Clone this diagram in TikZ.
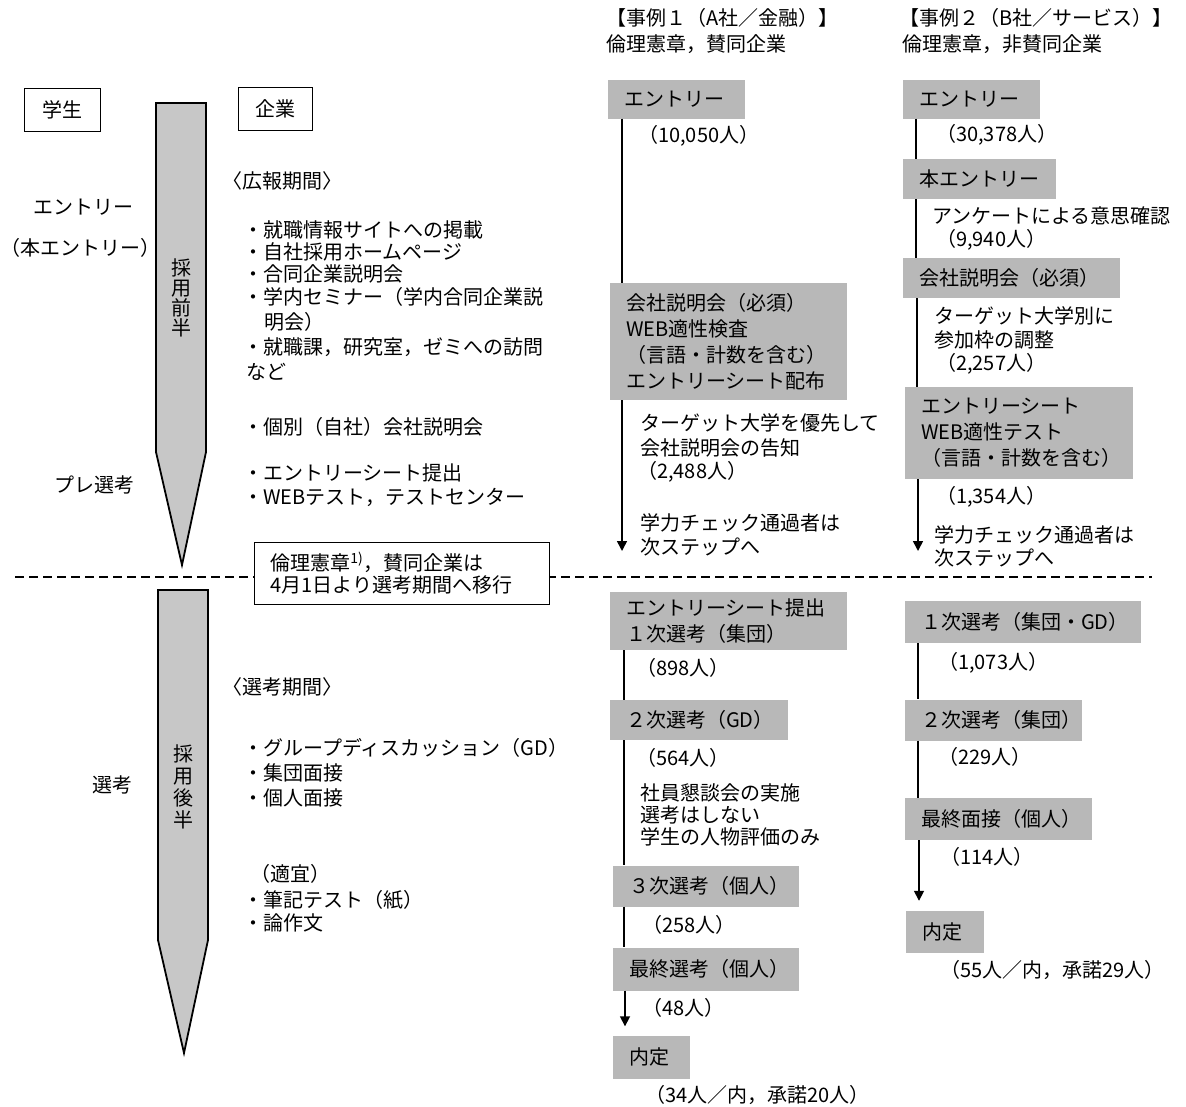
\documentclass[tikz,border=0pt]{standalone}
\usepackage{fontspec}
\setmainfont{Noto Sans CJK JP}
\usetikzlibrary{arrows.meta,calc}
\begin{document}
\begin{tikzpicture}[x=1pt,y=-1pt,
  font=\fontsize{20}{24}\selectfont,
  txt/.style={anchor=west,inner sep=0pt},
  gbox/.style={anchor=west,fill=black!28,inner xsep=16pt,inner ysep=0pt,align=left},
  twoline/.style={font=\fontsize{20}{26}\selectfont},
  wbox/.style={draw,line width=0.9pt,fill=white,inner sep=0pt,minimum height=43pt},
  bar/.style={draw,line width=1.8pt,fill=black!22,line join=miter},
  bartext/.style={inner sep=0pt,align=center},
  conn/.style={line width=1.6pt},
  arr/.style={conn,-{Triangle[width=10pt,length=10pt]}},
  sepline/.style={line width=2pt,dash pattern=on 9pt off 5pt}]
\useasboundingbox (0,0) rectangle (1186,1106);

% ---------- separator ----------
\coordinate (dl) at (15,577);
\coordinate (dr) at (1152,577);
\draw[sepline] (dl) -- (dr);

% ---------- left: header boxes ----------
\node[wbox,minimum width=76pt] (st) at (62,109.5) {学生};
\node[wbox,minimum width=74pt] (co) at (275,109) {企業};

% ---------- bars ----------
\filldraw[bar] (156,103) -- (206,103) -- (206,452) -- (182,565) -- (156,452) -- cycle;
\node[bartext,font=\fontsize{20}{20}\selectfont] (bar1) at (181,298) {採\\用\\前\\半};
\filldraw[bar] (158,590) -- (208,590) -- (208,940) -- (184,1053) -- (158,940) -- cycle;
\node[bartext,font=\fontsize{20}{22}\selectfont] (bar2) at (183,787) {採\\用\\後\\半};

% ---------- left labels ----------
\node[txt] (l1) at (33,207) {エントリー};
\node[inner sep=0pt,anchor=east] (l2) at (161,248) {（本エントリー）};
\node[txt] (l3) at (54,485) {プレ選考};
\node[txt] (l4) at (92,785) {選考};

% ---------- middle column ----------
\node[txt] (m0) at (222,181) {〈広報期間〉};
\node[txt] (m1) at (243,230) {・就職情報サイトへの掲載};
\node[txt] (m2) at (243,252) {・自社採用ホームページ};
\node[txt] (m3) at (243,274) {・合同企業説明会};
\node[txt] (m4) at (243,297) {・学内セミナー（学内合同企業説};
\node[txt] (m5) at (264,322) {明会）};
\node[txt] (m6) at (243,347) {・就職課，研究室，ゼミへの訪問};
\node[txt] (m7) at (246,372) {など};
\node[txt] (m8) at (243,427) {・個別（自社）会社説明会};
\node[txt] (m9) at (243,473) {・エントリーシート提出};
\node[txt] (m10) at (243,497) {・WEBテスト，テストセンター};

\node[txt] (n0) at (222,687) {〈選考期間〉};
\node[txt] (n1) at (243,748) {・グループディスカッション（GD）};
\node[txt] (n2) at (243,773) {・集団面接};
\node[txt] (n3) at (243,798) {・個人面接};
\node[txt] (n4) at (250,874) {（適宜）};
\node[txt] (n5) at (243,900) {・筆記テスト（紙）};
\node[txt] (n6) at (243,923) {・論作文};

% ---------- announcement box ----------
\node[draw,line width=0.9pt,fill=white,anchor=west,inner xsep=16pt,inner ysep=0pt,
      minimum height=62pt,text width=263pt,align=left,font=\fontsize{20}{22}\selectfont]
      (rk) at (254,573) {倫理憲章\textsuperscript{1)}，賛同企業は\\4月1日より選考期間へ移行};

% ---------- case 1 ----------
\node[txt] (h1a) at (606,18) {【事例１（A社／金融）】};
\node[txt] (h1b) at (606,44) {倫理憲章，賛同企業};

\node[gbox,text width=105pt,minimum height=39pt] (a1) at (608,99) {エントリー};
\node[txt] (a1n) at (638,136) {（10,050人）};
\node[gbox,twoline,text width=205pt,minimum height=117pt] (a2) at (610,341.5)
  {会社説明会（必須）\\WEB適性検査\\（言語・計数を含む）\\エントリーシート配布};
\node[txt] (a2t1) at (640,423) {ターゲット大学を優先して};
\node[txt] (a2t2) at (640,448) {会社説明会の告知};
\node[txt] (a2n) at (637,472) {（2,488人）};
\node[txt] (a2t3) at (640,523) {学力チェック通過者は};
\node[txt] (a2t4) at (640,547) {次ステップへ};
\coordinate (a2end) at (622,551);

\node[gbox,twoline,text width=205pt,minimum height=58pt] (b1) at (610,621)
  {エントリーシート提出\\１次選考（集団）};
\node[txt] (b1n) at (636,668) {（898人）};
\node[gbox,text width=146pt,minimum height=40pt] (b2) at (610,720) {２次選考（GD）};
\node[txt] (b2n) at (636,758) {（564人）};
\node[txt] (b2t1) at (640,793) {社員懇談会の実施};
\node[txt] (b2t2) at (640,815) {選考はしない};
\node[txt] (b2t3) at (640,837) {学生の人物評価のみ};
\node[gbox,text width=154pt,minimum height=41pt] (b3) at (613,886) {３次選考（個人）};
\node[txt] (b3n) at (642,925) {（258人）};
\node[gbox,text width=154pt,minimum height=43pt] (b4) at (613,969) {最終選考（個人）};
\node[txt] (b4n) at (642,1008) {（48人）};
\node[gbox,text width=45pt,minimum height=43pt] (b5) at (613,1057) {内定};
\node[txt] (b5n) at (645,1095) {（34人／内，承諾20人）};

\draw[conn] ([xshift=14pt]a1.south west) -- ([xshift=14pt]a1.south west |- a2.north);
\draw[arr] ([xshift=12pt]a2.south west) -- (a2end);
\draw[conn] ([xshift=14pt]b1.south west) -- ([xshift=14pt]b1.south west |- b2.north);
\draw[conn] ([xshift=14pt]b2.south west) -- ([xshift=14pt]b2.south west |- b3.north);
\draw[conn] ([xshift=11pt]b3.south west) -- ([xshift=11pt]b3.south west |- b4.north);
\draw[arr] ([xshift=12pt]b4.south west) -- ($([xshift=12pt]b4.south west |- b5.north)+(0,-9)$);

% ---------- case 2 ----------
\node[txt] (h2a) at (899,18) {【事例２（B社／サービス）】};
\node[txt] (h2b) at (902,44) {倫理憲章，非賛同企業};

\node[gbox,text width=105pt,minimum height=39pt] (c1) at (903,99) {エントリー};
\node[txt] (c1n) at (936,135) {（30,378人）};
\node[gbox,text width=121pt,minimum height=40pt] (c2) at (903,179) {本エントリー};
\node[txt] (c2t) at (932,216) {アンケートによる意思確認};
\node[txt] (c2n) at (936,240) {（9,940人）};
\node[gbox,text width=185pt,minimum height=40pt] (c3) at (903,278) {会社説明会（必須）};
\node[txt] (c3t1) at (934,316) {ターゲット大学別に};
\node[txt] (c3t2) at (934,340) {参加枠の調整};
\node[txt] (c3n) at (936,364) {（2,257人）};
\node[gbox,twoline,text width=196pt,minimum height=92pt] (c4) at (905,433)
  {エントリーシート\\WEB適性テスト\\（言語・計数を含む）};
\node[txt] (c4n) at (936,497) {（1,354人）};
\node[txt] (c4t1) at (934,535) {学力チェック通過者は};
\node[txt] (c4t2) at (934,558) {次ステップへ};
\coordinate (c4end) at (918,551);

\node[gbox,text width=204pt,minimum height=42pt] (d1) at (905,622) {１次選考（集団・GD）};
\node[txt] (d1n) at (938,663) {（1,073人）};
\node[gbox,text width=145pt,minimum height=41pt] (d2) at (905,720) {２次選考（集団）};
\node[txt] (d2n) at (938,757) {（229人）};
\node[gbox,text width=155pt,minimum height=42pt] (d3) at (905,819) {最終面接（個人）};
\node[txt] (d3n) at (940,857) {（114人）};
\node[gbox,text width=46pt,minimum height=42pt] (d4) at (906,932) {内定};
\node[txt] (d4n) at (940,970) {（55人／内，承諾29人）};

\draw[conn] ([xshift=13pt]c1.south west) -- ([xshift=13pt]c1.south west |- c2.north);
\draw[conn] ([xshift=13pt]c2.south west) -- ([xshift=13pt]c2.south west |- c3.north);
\draw[conn] ([xshift=14pt]c3.south west) -- ([xshift=14pt]c3.south west |- c4.north);
\draw[arr] ([xshift=13pt]c4.south west) -- (c4end);
\draw[conn] ([xshift=13pt]d1.south west) -- ([xshift=13pt]d1.south west |- d2.north);
\draw[conn] ([xshift=13pt]d2.south west) -- ([xshift=13pt]d2.south west |- d3.north);
\draw[arr] ([xshift=14pt]d3.south west) -- ($([xshift=14pt]d3.south west |- d4.north)+(0,-10)$);
\end{tikzpicture}
\end{document}
